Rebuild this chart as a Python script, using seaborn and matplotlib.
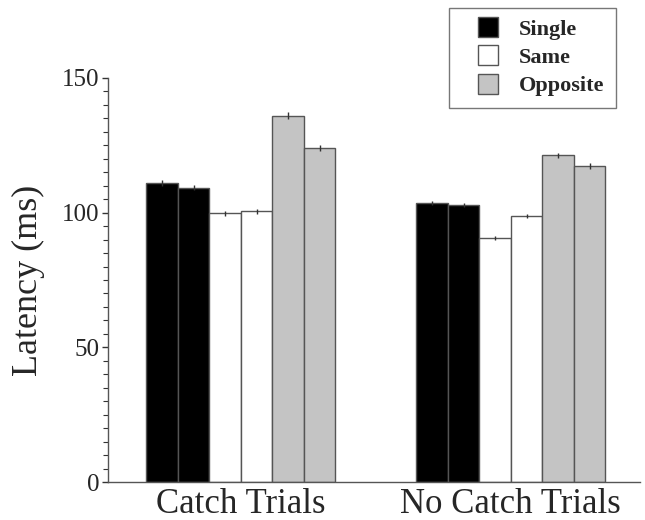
import matplotlib
matplotlib.use("Agg")
import matplotlib.pyplot as plt
import seaborn as sns
import pandas as pd
from matplotlib.lines import Line2D
from matplotlib.ticker import MultipleLocator

sns.set_style("white")
plt.rcParams['font.family'] = ['Liberation Serif', 'DejaVu Serif']

groups = ["Catch Trials", "No Catch Trials"]
conditions = ["Single", "Same", "Opposite"]
bar_keys = ["Single 1", "Single 2", "Same 1", "Same 2", "Opposite 1", "Opposite 2"]
catch_vals = [111.0, 109.3, 99.8, 100.5, 136.0, 124.0]
nocatch_vals = [103.5, 102.8, 90.5, 98.7, 121.3, 117.3]
catch_err = [1.0, 1.0, 1.0, 1.0, 1.2, 1.0]
nocatch_err = [0.8, 0.8, 0.8, 0.8, 1.0, 1.0]

rows = []
for g, vals, errs in [(groups[0], catch_vals, catch_err), (groups[1], nocatch_vals, nocatch_err)]:
    for k, v, e in zip(bar_keys, vals, errs):
        rows.append({"group": g, "bar": k, "latency": v, "err": e})
df = pd.DataFrame(rows)

GRAY = "#c4c4c4"
colors = {"Single 1": "#000000", "Single 2": "#000000",
          "Same 1": "#ffffff", "Same 2": "#ffffff",
          "Opposite 1": GRAY, "Opposite 2": GRAY}

fig = plt.figure(figsize=(6.45, 5.2), dpi=100)
ax = fig.add_axes([0.167, 0.073, 0.825, 0.777])

sns.barplot(data=df, x="group", y="latency", hue="bar", hue_order=bar_keys,
            order=groups, palette=colors, width=0.7, gap=0, errorbar=None,
            edgecolor="#555555", linewidth=1.0, legend=False, ax=ax)

# error bars at bar tops
for cont, key in zip(ax.containers, bar_keys):
    for patch, g in zip(cont.patches, groups):
        e = df[(df.group == g) & (df.bar == key)]["err"].iloc[0]
        xc = patch.get_x() + patch.get_width() / 2
        ax.errorbar(xc, patch.get_height(), yerr=e, fmt="none",
                    ecolor="#333333", elinewidth=1.0, capsize=0)

ax.set_ylim(0, 150)
ax.set_xlim(-0.493, 1.478)
ax.yaxis.set_major_locator(MultipleLocator(50))
ax.yaxis.set_minor_locator(MultipleLocator(5))
ax.tick_params(axis="y", which="major", direction="out", length=4, width=1,
               labelsize=18, left=True, color="#333333", pad=2)
ax.tick_params(axis="y", which="minor", direction="out", length=3.5, width=0.8,
               left=True, color="#333333")
ax.tick_params(axis="x", length=0, labelsize=25, pad=4)
ax.set_xlabel("")
ax.set_ylabel("Latency (ms)", fontsize=26, labelpad=12)
for s in ["top", "right"]:
    ax.spines[s].set_visible(False)
for s in ["left", "bottom"]:
    ax.spines[s].set_color("#555555")
    ax.spines[s].set_linewidth(1.0)

handles = [Line2D([], [], linestyle="none", marker="s", markersize=14,
                  markerfacecolor=c, markeredgecolor="#555555", markeredgewidth=1.0,
                  label=l)
           for c, l in zip(["#000000", "#ffffff", GRAY], conditions)]
leg = fig.legend(handles=handles, loc="upper left", bbox_to_anchor=(0.696, 0.985),
                 frameon=True, fancybox=False, edgecolor="#555555",
                 prop={"weight": "bold", "size": 16}, handlelength=2.5,
                 handletextpad=0.1, labelspacing=0.34,
                 borderpad=0.53, borderaxespad=0)
leg.get_frame().set_linewidth(1.0)

fig.savefig("out.png", dpi=100)
